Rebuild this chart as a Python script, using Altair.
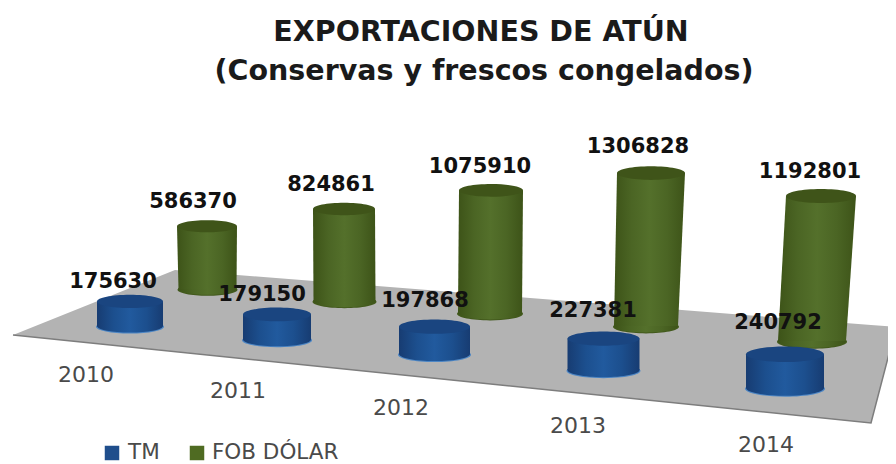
import altair as alt
import pandas as pd

years = ["2010", "2011", "2012", "2013", "2014"]
tm_values = [175630, 179150, 197868, 227381, 240792]
fob_values = [586370, 824861, 1075910, 1306828, 1192801]

# Projection of the tilted 3D scene: where each cylinder stands on the floor,
# how wide it is and how many picture units one value unit is at that depth.
tm_floor_y = [326, 339.5, 354, 370, 388]
tm_x = [130, 277, 434.5, 603.5, 785]
tm_rx = [33, 34, 35.5, 36, 39]
tm_k = [1.4e-4, 1.4e-4, 1.38e-4, 1.38e-4, 1.4e-4]
fob_floor_y = [289, 301, 313, 326, 341]
fob_x_base = [207.5, 344.5, 490, 646, 812]
fob_x_top = [207, 344, 491, 651, 821]
fob_rx_base = [29, 31, 32, 32, 34]
fob_rx_top = [30, 31, 32, 34, 35]
fob_k = [1.07e-4, 1.115e-4, 1.14e-4, 1.17e-4, 1.215e-4]

tm_label_x = [113, 262, 425, 593, 778]
tm_label_y = [282, 295, 301, 311, 323]
fob_label_x = [193, 331, 480, 638, 810]
fob_label_y = [202, 185, 167, 147, 172]
year_label_x = [86, 238, 401, 578, 766]
year_label_y = [375, 391, 408, 426, 445]

floor_x = [13, 175, 871, 896]
floor_top = [335, 270, 325, 327]
floor_bottom = [335, 351.6, 423, 327]
edge_x = [13, 871, 896]
edge_y = [335, 423, 327]

title_lines = ["EXPORTACIONES DE ATÚN", "(Conservas y frescos congelados)"]
title_x = [481, 484]
title_y = [32, 71]

legend_names = ["TM", "FOB DÓLAR"]
legend_sq_x = [112, 197]
legend_txt_x = [128, 212]
legend_y = [453, 453]

ASPECT = 0.2
ELLIPSE = f"M-1,0A1,{ASPECT} 0 1,1 1,0A1,{ASPECT} 0 1,1 -1,0Z"

X = alt.Scale(domain=[8, 888])
Y = alt.Scale(domain=[464, 8])


def grad(stops):
    n = len(stops) - 1
    return alt.LinearGradient(
        gradient="linear", x1=0, x2=1, y1=0, y2=0,
        stops=[alt.GradientStop(offset=i / n, color=c) for i, c in enumerate(stops)],
    )


def cylinders(floor_y, values, k, xb, xt, rb, rt, body, top, rim):
    base_rows, top_rows, body_rows = [], [], []
    for i in range(len(values)):
        yb = floor_y[i]
        yt = yb - values[i] * k[i]
        base_rows.append(dict(x=xb[i], y=yb, s=(2 * rb[i]) ** 2, rim=(2 * rb[i] + 2) ** 2, yr=yb + 0.8))
        top_rows.append(dict(x=xt[i], y=yt, s=(2 * rt[i]) ** 2))
        body_rows.append(dict(g=i, y=yt, l=xt[i] - rt[i], r=xt[i] + rt[i]))
        body_rows.append(dict(g=i, y=yb, l=xb[i] - rb[i], r=xb[i] + rb[i]))
    base_df = pd.DataFrame(base_rows)
    top_df = pd.DataFrame(top_rows)
    body_df = pd.DataFrame(body_rows)
    return [
        alt.Chart(base_df).mark_point(filled=True, shape=ELLIPSE, fill=rim, opacity=1).encode(
            x=alt.X("x:Q", scale=X, axis=None), y=alt.Y("yr:Q", scale=Y, axis=None),
            size=alt.Size("rim:Q", scale=None)),
        alt.Chart(base_df).mark_point(filled=True, shape=ELLIPSE, fill=grad(body), opacity=1).encode(
            x=alt.X("x:Q", scale=X, axis=None), y=alt.Y("y:Q", scale=Y, axis=None),
            size=alt.Size("s:Q", scale=None)),
        alt.Chart(body_df).mark_area(orient="horizontal", fill=grad(body), opacity=1).encode(
            y=alt.Y("y:Q", scale=Y, axis=None),
            x=alt.X("l:Q", scale=X, axis=None), x2="r:Q", detail="g:N"),
        alt.Chart(top_df).mark_point(filled=True, shape=ELLIPSE, fill=top, opacity=1).encode(
            x=alt.X("x:Q", scale=X, axis=None), y=alt.Y("y:Q", scale=Y, axis=None),
            size=alt.Size("s:Q", scale=None)),
    ]


def texts(xs, ys, labels, **kw):
    df = pd.DataFrame(dict(x=xs, y=ys, t=labels))
    return alt.Chart(df).mark_text(baseline="middle", **kw).encode(
        x=alt.X("x:Q", scale=X, axis=None), y=alt.Y("y:Q", scale=Y, axis=None), text="t:N")


floor = alt.Chart(pd.DataFrame(dict(x=floor_x, y=floor_top, y2=floor_bottom))).mark_area(
    color="#b3b3b3", opacity=1, clip=True).encode(
    x=alt.X("x:Q", scale=X, axis=None), y=alt.Y("y:Q", scale=Y, axis=None), y2="y2:Q")
edge = alt.Chart(pd.DataFrame(dict(x=edge_x, y=edge_y))).mark_line(
    color="#7d7d7d", strokeWidth=1.5, clip=True).encode(
    x=alt.X("x:Q", scale=X, axis=None), y=alt.Y("y:Q", scale=Y, axis=None))

fob_layers = cylinders(
    fob_floor_y, fob_values, fob_k, fob_x_base, fob_x_top, fob_rx_base, fob_rx_top,
    ["#3d5318", "#4b6524", "#54702b", "#4b6524", "#3d5318"], "#3f5419", "#42591c")
tm_layers = cylinders(
    tm_floor_y, tm_values, tm_k, tm_x, tm_x, tm_rx, tm_rx,
    ["#173c72", "#1c4f8e", "#215a9e", "#1c4f8e", "#173c72"], "#1a4580", "#4d86c4")

sq = alt.Chart(pd.DataFrame(dict(x=legend_sq_x, y=legend_y, n=legend_names))).mark_square(opacity=1, size=210).encode(
    x=alt.X("x:Q", scale=X, axis=None), y=alt.Y("y:Q", scale=Y, axis=None),
    color=alt.Color("n:N", legend=None,
                    scale=alt.Scale(domain=legend_names, range=["#1f4e8c", "#4f6b22"])))

chart = alt.layer(
    floor, edge, *fob_layers, *tm_layers,
    texts(year_label_x, year_label_y, years, font="DejaVu Sans", fontSize=22, color="#4a4a4a", align="center"),
    texts(tm_label_x, tm_label_y, [str(v) for v in tm_values], font="DejaVu Sans", fontWeight="bold", fontSize=21, color="#111111", align="center"),
    texts(fob_label_x, fob_label_y, [str(v) for v in fob_values], font="DejaVu Sans", fontWeight="bold", fontSize=21, color="#111111", align="center"),
    texts(title_x, title_y, title_lines, font="DejaVu Sans", fontWeight="bold", fontSize=28.5, color="#1a1a1a", align="center"),
    sq,
    texts(legend_txt_x, legend_y, legend_names, font="DejaVu Sans", fontSize=21.5, color="#4a4a4a", align="left"),
).properties(
    width=880, height=456, padding=0, background="white",
    autosize=alt.AutoSizeParams(type="none"),
).configure_view(stroke=None)

chart.save("out.html", embed_options={"renderer": "svg", "actions": False})
